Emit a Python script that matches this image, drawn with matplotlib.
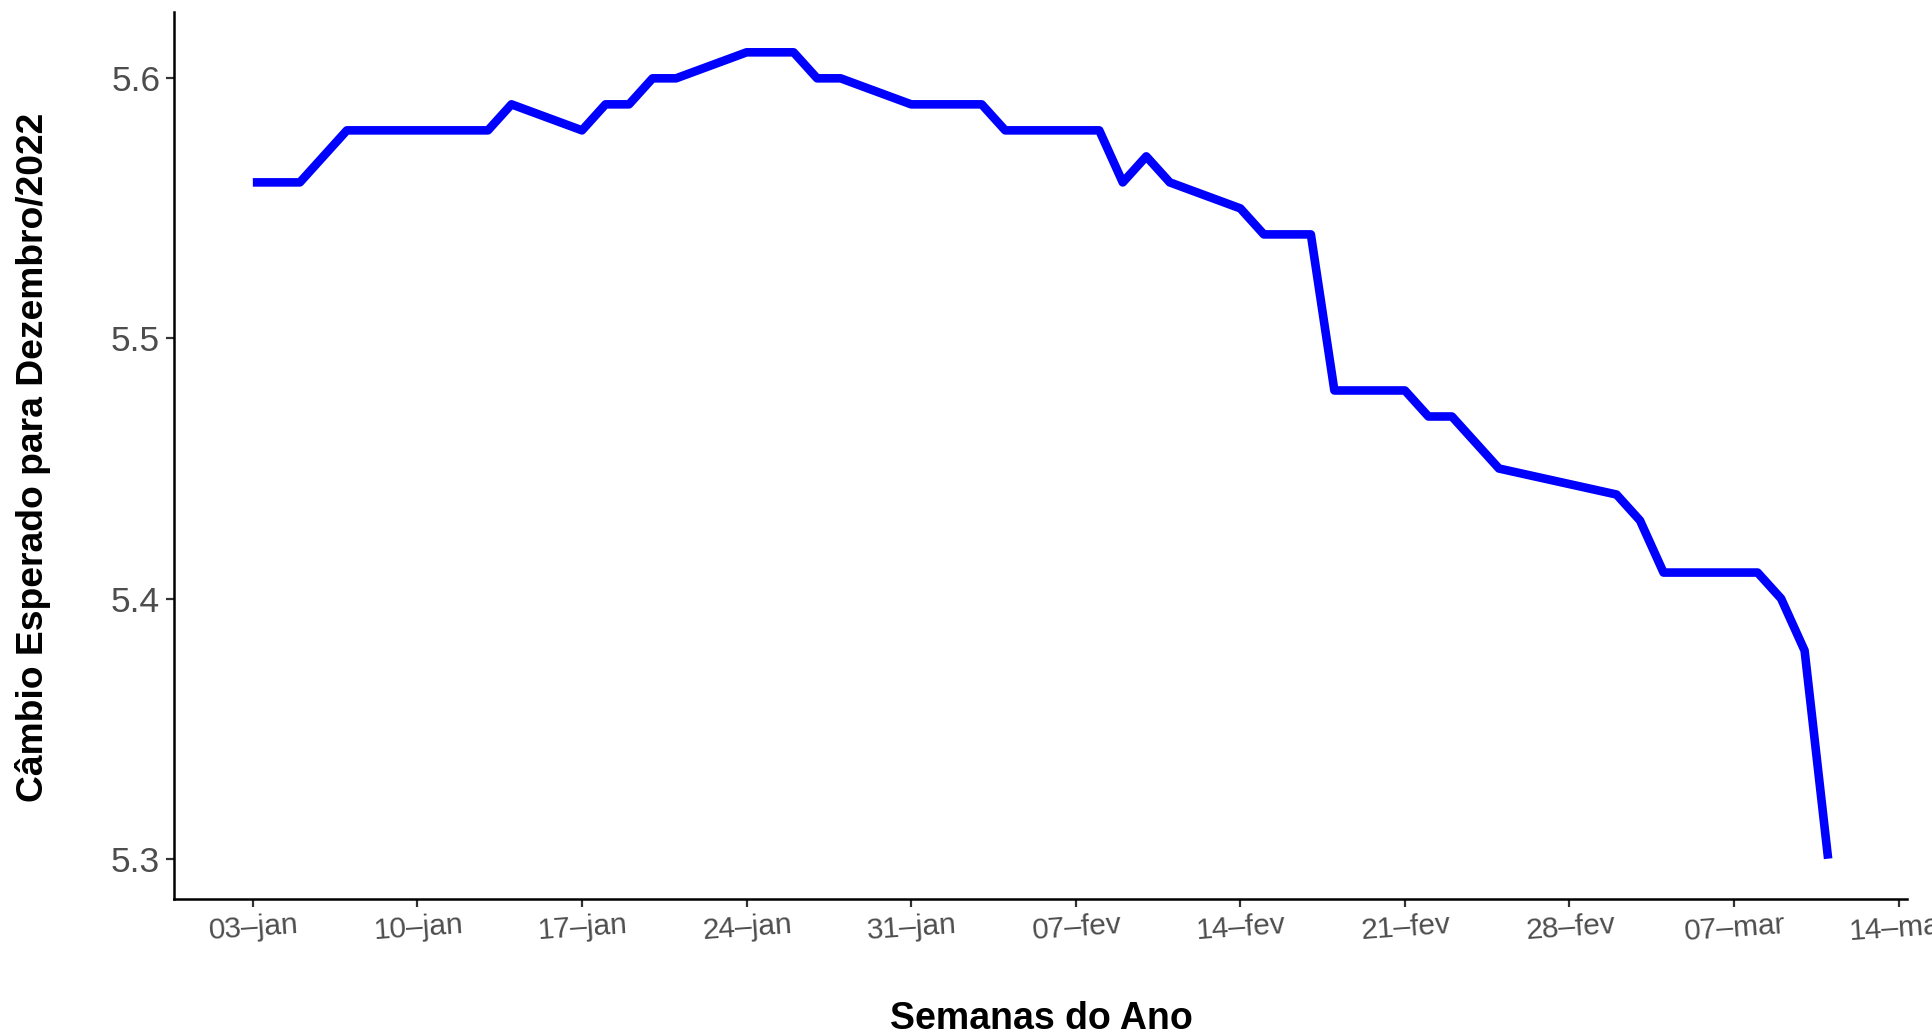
import numpy as np
import pandas as pd
import matplotlib
matplotlib.use("Agg")
import matplotlib.pyplot as plt
import matplotlib.dates as mdates

# dias úteis (sem carnaval 28/02 e 01/03)
datas = ["2022-01-03", "2022-01-04", "2022-01-05", "2022-01-06", "2022-01-07",
         "2022-01-10", "2022-01-11", "2022-01-12", "2022-01-13", "2022-01-14",
         "2022-01-17", "2022-01-18", "2022-01-19", "2022-01-20", "2022-01-21",
         "2022-01-24", "2022-01-25", "2022-01-26", "2022-01-27", "2022-01-28",
         "2022-01-31", "2022-02-01", "2022-02-02", "2022-02-03", "2022-02-04",
         "2022-02-07", "2022-02-08", "2022-02-09", "2022-02-10", "2022-02-11",
         "2022-02-14", "2022-02-15", "2022-02-16", "2022-02-17", "2022-02-18",
         "2022-02-21", "2022-02-22", "2022-02-23", "2022-02-24", "2022-02-25",
         "2022-03-02", "2022-03-03", "2022-03-04", "2022-03-07", "2022-03-08",
         "2022-03-09", "2022-03-10", "2022-03-11"]
cambio = [5.56, 5.56, 5.56, 5.57, 5.58,
          5.58, 5.58, 5.58, 5.58, 5.59,
          5.58, 5.59, 5.59, 5.60, 5.60,
          5.61, 5.61, 5.61, 5.60, 5.60,
          5.59, 5.59, 5.59, 5.59, 5.58,
          5.58, 5.58, 5.56, 5.57, 5.56,
          5.55, 5.54, 5.54, 5.54, 5.48,
          5.48, 5.47, 5.47, 5.46, 5.45,
          5.44, 5.43, 5.41, 5.41, 5.41,
          5.40, 5.38, 5.30]

semanas = ["2022-01-03", "2022-01-10", "2022-01-17", "2022-01-24", "2022-01-31",
           "2022-02-07", "2022-02-14", "2022-02-21", "2022-02-28", "2022-03-07",
           "2022-03-14"]
semanas_labels = ["03–jan", "10–jan", "17–jan", "24–jan", "31–jan", "07–fev",
                  "14–fev", "21–fev", "28–fev", "07–mar", "14–mar"]

x = pd.to_datetime(datas)
xt = pd.to_datetime(semanas)

fig = plt.figure(figsize=(19.32, 10.35), dpi=100)
ax = fig.add_axes([0.0901, 0.1314, 0.8969, 0.857])

ax.plot(x, cambio, color="#0000FF", lw=6.2, solid_capstyle="butt", solid_joinstyle="round")

# expansão de 5% como no ggplot
x0, x1 = mdates.date2num(x[0]), mdates.date2num(x[-1])
dx = (x1 - x0) * 0.05
ax.set_xlim(x0 - dx, x1 + dx)
y0, y1 = min(cambio), max(cambio)
dy = (y1 - y0) * 0.05
ax.set_ylim(y0 - dy, y1 + dy)

ax.set_xticks(xt)
ax.set_xticklabels(semanas_labels, rotation=4, rotation_mode="anchor", ha="center", va="top")
ax.set_yticks([5.3, 5.4, 5.5, 5.6])
ax.set_yticklabels(["5.3", "5.4", "5.5", "5.6"])

for s in ["top", "right"]:
    ax.spines[s].set_visible(False)
for s in ["left", "bottom"]:
    ax.spines[s].set_linewidth(1.8)
    ax.spines[s].set_color("black")

ax.tick_params(axis="x", length=6, width=1.6, color="#333333", labelsize=21.5,
               labelcolor="#4D4D4D", pad=5)
ax.tick_params(axis="y", length=6, width=1.6, color="#333333", labelsize=25.5,
               labelcolor="#4D4D4D", pad=4)
for lab in ax.get_xticklabels() + ax.get_yticklabels():
    lab.set_fontfamily("Liberation Sans")

fig.text(0.5388, 1 - 1019 / 1035, "Semanas do Ano", fontsize=27, fontweight="bold",
         family="Liberation Sans", ha="center", va="center")
fig.text(33 / 1932, 1 - 457 / 1035, "Câmbio Esperado para Dezembro/2022", fontsize=26.8,
         fontweight="bold", family="Liberation Sans", ha="center", va="center",
         rotation=90)

fig.savefig("out.png", dpi=100)
